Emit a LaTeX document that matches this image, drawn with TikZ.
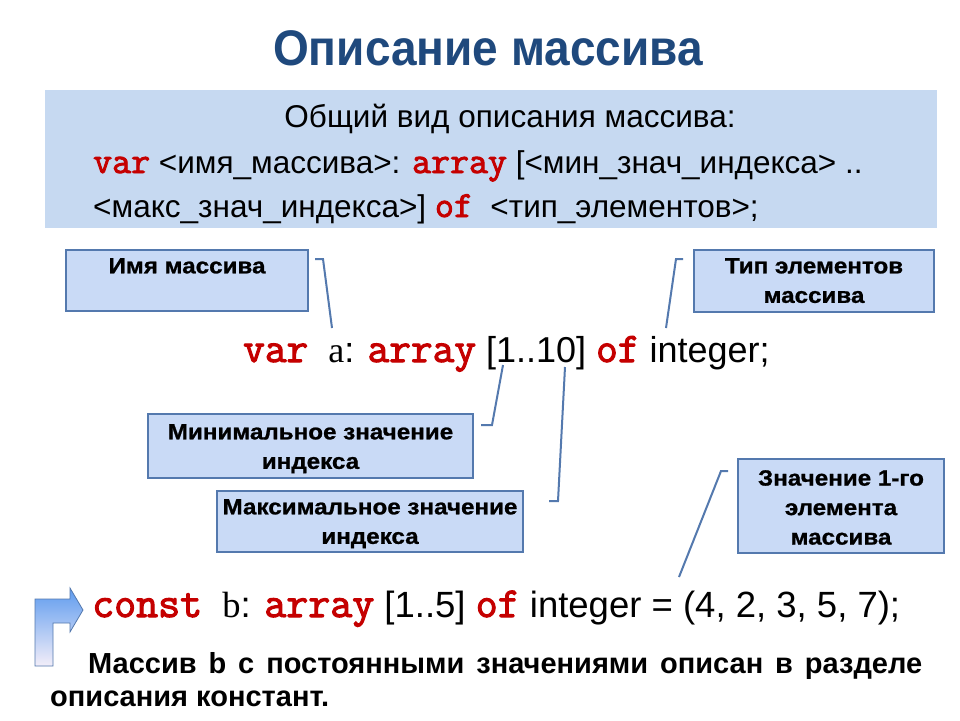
\documentclass[tikz,border=0pt]{standalone}
\usepackage{fontspec}
\setmainfont{Liberation Sans}
\newfontfamily\codefont{Latin Modern Mono}[FakeBold=2.5,Scale=1.17]
\newfontfamily\seriffont{Liberation Serif}
\newfontfamily\titlefont{Liberation Sans}[FakeStretch=0.92]
\newfontfamily\lblfont{Liberation Sans}[FakeStretch=1.1,FakeBold=1]
\usetikzlibrary{positioning}
\definecolor{titleblue}{HTML}{1F497D}
\definecolor{panelblue}{HTML}{C6D9F1}
\definecolor{lblfill}{HTML}{C9DAF6}
\definecolor{lblborder}{HTML}{5479AE}
\definecolor{kwred}{HTML}{C50000}
\definecolor{arrowtop}{HTML}{5E9BEE}
\definecolor{arrowbot}{HTML}{F3EEF9}
\newcommand{\kw}[1]{{\codefont\color{kwred}#1}}
\tikzset{
  lblbox/.style={draw=lblborder, line width=2pt, fill=lblfill, inner sep=0pt, anchor=north west},
  lbltext/.style={font=\fontsize{22}{29.5}\lblfont\bfseries, align=center, anchor=north, inner sep=0pt},
  conn/.style={draw=lblborder, line width=2pt},
  codeline/.style={font=\fontsize{36}{38}\selectfont, anchor=base west, inner sep=0pt},
  paneltext/.style={font=\fontsize{31.5}{33}\selectfont, anchor=base west, inner sep=0pt},
}
\begin{document}
\begin{tikzpicture}[x=1pt,y=-1pt]
\useasboundingbox (0,0) rectangle (960,720);
\fill[white] (0,0) rectangle (960,720);
% title
\node[font=\fontsize{50}{52}\titlefont\bfseries, text=titleblue, inner sep=0pt] (title) at (488,48) {Описание массива};
% panel
\node[fill=panelblue, minimum width=892pt, minimum height=138pt, inner sep=0pt, anchor=north west] (panel) at (45,90) {};
\node[paneltext, anchor=base] (p1) at (510,127) {Общий вид описания массива:};
\node[paneltext] (p2) at (93,173) {\kw{var} <имя\_массива>: \kw{array} [<мин\_знач\_индекса> ..};
\node[paneltext] (p3) at (93,217) {<макс\_знач\_индекса>] \kw{of}\ \ <тип\_элементов>;};
% label boxes
\node[lblbox, minimum width=242pt, minimum height=61pt] (b1) at (65,249) {};
\node[lbltext] (t1) at (b1.north) [yshift=-9pt] {Имя массива};
\node[lblbox, minimum width=240pt, minimum height=62pt] (b2) at (693,249) {};
\node[lbltext] (t2) at (b2.north) [yshift=-9pt] {Тип элементов\\массива};
\node[lblbox, minimum width=325pt, minimum height=64pt] (b3) at (147,413) {};
\node[lbltext] (t3) at (b3.north) [yshift=-11pt] {Минимальное значение\\индекса};
\node[lblbox, minimum width=306pt, minimum height=61pt] (b4) at (216,490) {};
\node[lbltext] (t4) at (b4.north) [yshift=-9pt] {Максимальное значение\\индекса};
\node[lblbox, minimum width=206pt, minimum height=94pt] (b5) at (737,458) {};
\node[lbltext] (t5) at (b5.north) [yshift=-12pt] {Значение 1-го\\элемента\\массива};
% code line 1
\node[codeline] (code1) at (243,362) {\kw{var}\ \ {\seriffont a}: \kw{array} [1..10] \kw{of} integer;};
% connectors
\coordinate (c1a) at (315,259); \coordinate (c1b) at (323,259); \coordinate (c1c) at (332,328);
\coordinate (c2a) at (683,259); \coordinate (c2b) at (676,259); \coordinate (c2c) at (666,328);
\coordinate (c3a) at (481,425); \coordinate (c3b) at (492,425); \coordinate (c3c) at (503,365);
\coordinate (c4a) at (549,501); \coordinate (c4b) at (558,501); \coordinate (c4c) at (565,367);
\coordinate (c5a) at (728,471); \coordinate (c5b) at (721,471); \coordinate (c5c) at (679,577);
\draw[conn] (c1a) -- (c1b) -- (c1c);
\draw[conn] (c2a) -- (c2b) -- (c2c);
\draw[conn] (c3a) -- (c3b) -- (c3c);
\draw[conn] (c4a) -- (c4b) -- (c4c);
\draw[conn] (c5a) -- (c5b) -- (c5c);
% bent arrow
\shade[top color=arrowtop, bottom color=arrowbot, draw=lblborder, line width=0.8pt]
  (35,666) -- (35,599) -- (70,599) -- (70,588) -- (83,610) -- (70,632) -- (70,623) -- (53,623) -- (53,666) -- cycle;
% code line 2
\node[codeline, font=\fontsize{36.5}{38}\selectfont] (code2) at (92,617) {\kw{const}\ \ {\seriffont b}: \kw{array} [1..5] \kw{of} integer = (4, 2, 3, 5, 7);};
% paragraph
\node[font=\fontsize{29}{33}\selectfont\bfseries, text width=872pt, align=justify, inner sep=0pt, anchor=north west] (para) at (50,652)
  {\hspace*{38pt}Массив b с постоянными значениями описан в разделе описания констант.};
\end{tikzpicture}
\end{document}
